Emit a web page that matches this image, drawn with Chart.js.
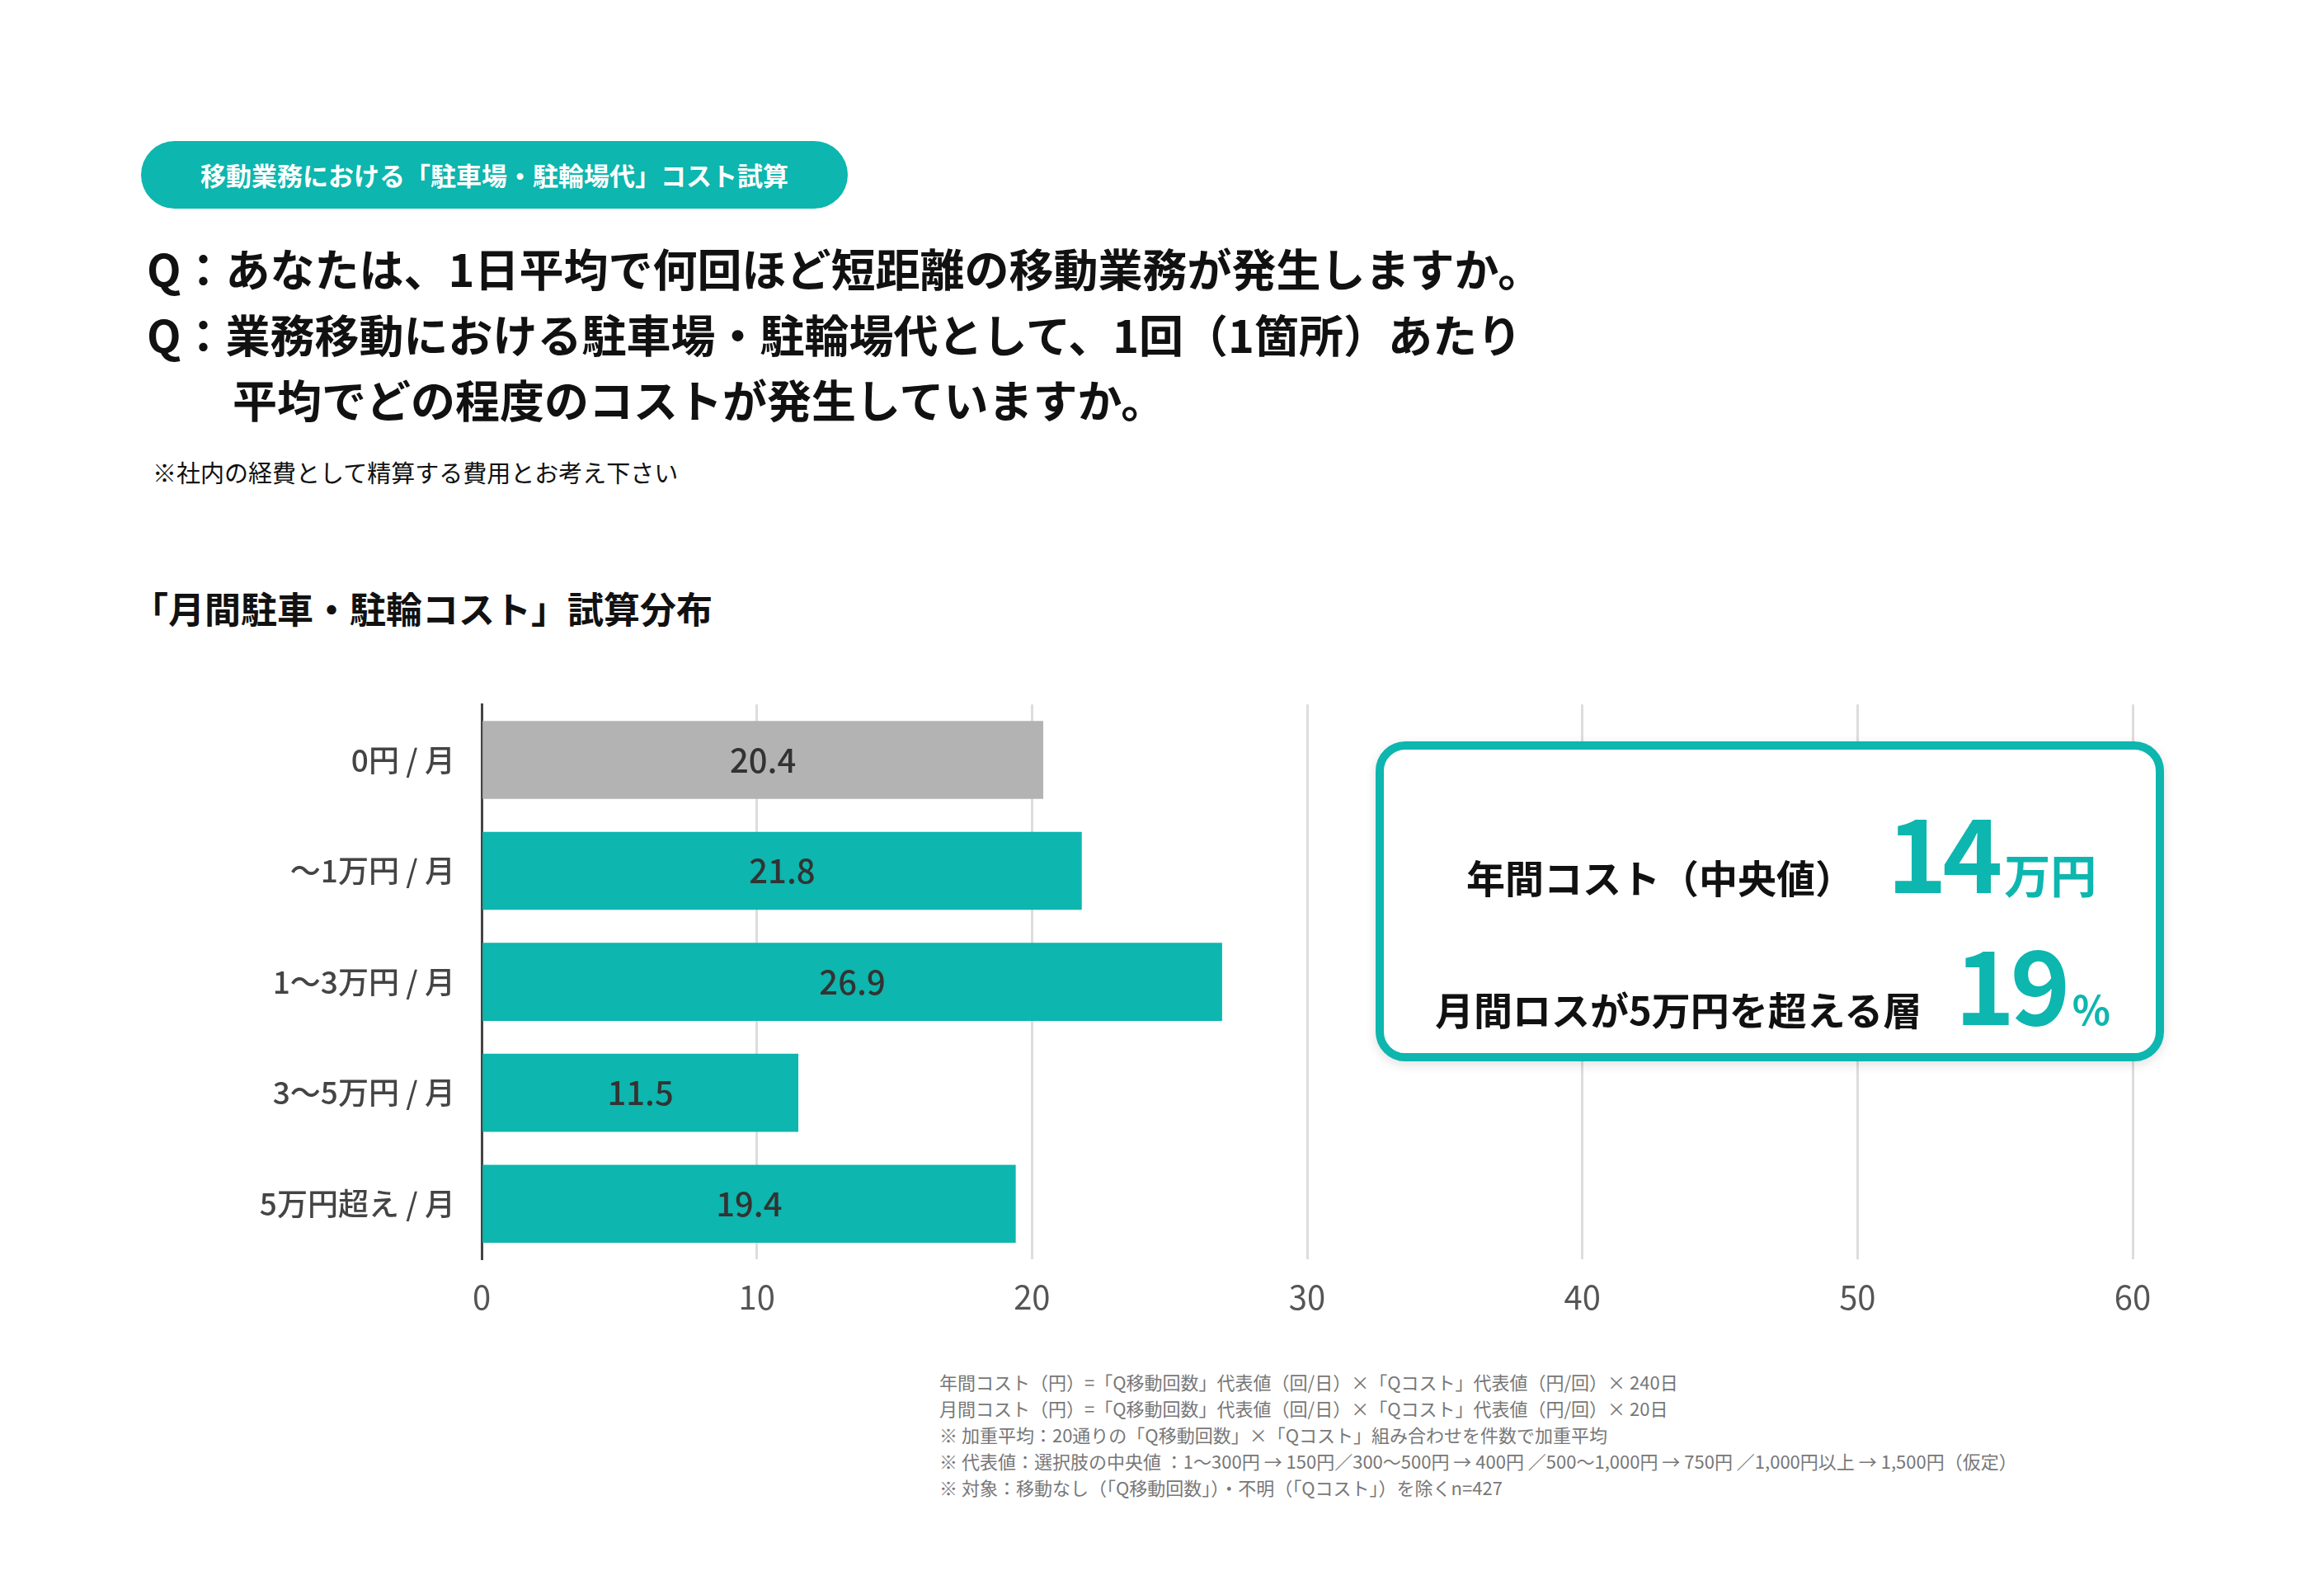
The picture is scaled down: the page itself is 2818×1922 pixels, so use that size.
<!DOCTYPE html>
<html><head><meta charset="utf-8">
<script src="https://cdn.jsdelivr.net/npm/chart.js@4"></script>
<style>
body{margin:0;width:2818px;height:1922px;background:#fff;font-family:"Noto Sans CJK JP","Noto Sans",sans-serif;color:#111;position:relative;overflow:hidden}
.abs{position:absolute;white-space:nowrap}
#badge{left:171px;top:171px;width:857px;height:82px;border-radius:41px;background:#0db6ae;color:#fff;font-size:31px;font-weight:700;line-height:82px;text-align:center}
.q{font-size:54px;font-weight:700;left:178px}
#box{left:1668px;top:899px;width:936px;height:368px;border:10px solid #0db6ae;border-radius:36px;background:#fff;box-shadow:0 4px 14px rgba(0,0,0,.12)}
.row{position:absolute;display:flex;align-items:baseline;font-weight:700}
.lbl{font-size:47px;color:#111}
.big{font-size:124px;color:#0db6ae;letter-spacing:-6px;margin-left:40px;line-height:1}
.unit{font-size:56px;color:#0db6ae;margin-left:8px}
.fn{left:1139px;font-size:22px;color:#777}
</style></head><body>
<div id="badge" class="abs">移動業務における「駐車場・駐輪場代」コスト試算</div>
<div class="abs q" style="top:285px">Q：あなたは、1日平均で何回ほど短距離の移動業務が発生しますか。</div>
<div class="abs q" style="top:365px">Q：業務移動における駐車場・駐輪場代として、1回（1箇所）あたり</div>
<div class="abs q" style="top:444px;left:282px">平均でどの程度のコストが発生していますか。</div>
<div class="abs" style="left:185px;top:551px;font-size:29px">※社内の経費として精算する費用とお考え下さい</div>
<div class="abs" style="left:160px;top:705px;font-size:44px;font-weight:700">「月間駐車・駐輪コスト」試算分布</div>
<canvas id="c" class="abs" style="left:200px;top:800px;width:2440px;height:810px"></canvas>
<div id="box" class="abs">
  <div class="row" style="left:100px;top:58px"><span class="lbl">年間コスト（中央値）</span><span class="big">14</span><span class="unit">万円</span></div>
  <div class="row" style="left:62px;top:218px"><span class="lbl">月間ロスが5万円を超える層</span><span class="big">19</span><span class="unit" style="font-size:48px">%</span></div>
</div>
<div class="abs fn" style="top:1659px">年間コスト（円）=「Q移動回数」代表値（回/日）×「Qコスト」代表値（円/回）× 240日</div>
<div class="abs fn" style="top:1691px">月間コスト（円）=「Q移動回数」代表値（回/日）×「Qコスト」代表値（円/回）× 20日</div>
<div class="abs fn" style="top:1723px">※ 加重平均：20通りの「Q移動回数」×「Qコスト」組み合わせを件数で加重平均</div>
<div class="abs fn" style="top:1755px">※ 代表値：選択肢の中央値 ：1〜300円 → 150円／300〜500円 → 400円 ／500〜1,000円 → 750円 ／1,000円以上 → 1,500円（仮定）</div>
<div class="abs fn" style="top:1787px">※ 対象：移動なし（「Q移動回数」）・不明（「Qコスト」）を除くn=427</div>
<script>
const categories = ['0円 / 月', '〜1万円 / 月', '1〜3万円 / 月', '3〜5万円 / 月', '5万円超え / 月'];
const shares = [20.4, 21.8, 26.9, 11.5, 19.4];
const barColors = ['#b3b3b3', '#0db6ae', '#0db6ae', '#0db6ae', '#0db6ae'];
const xTicks = [0, 10, 20, 30, 40, 50, 60];

const inBarLabels = {
  id: 'inBarLabels',
  afterDatasetsDraw(chart) {
    const ctx = chart.ctx;
    const meta = chart.getDatasetMeta(0);
    ctx.save();
    ctx.font = '500 40px "Noto Sans CJK JP", sans-serif';
    ctx.fillStyle = '#333';
    ctx.textAlign = 'center';
    ctx.textBaseline = 'middle';
    meta.data.forEach((bar, i) => {
      ctx.fillText(shares[i].toFixed(1), (bar.x + bar.base) / 2, bar.y);
    });
    ctx.restore();
  }
};

new Chart(document.getElementById('c'), {
  type: 'bar',
  data: {
    labels: categories,
    datasets: [{ data: shares, backgroundColor: barColors, barThickness: 94 }]
  },
  options: {
    indexAxis: 'y',
    responsive: false,
    devicePixelRatio: 1,
    animation: false,
    layout: { padding: { top: 27, right: 54, left: 0, bottom: 0 } },
    plugins: { legend: { display: false }, tooltip: { enabled: false } },
    scales: {
      x: {
        min: 0, max: 60,
        afterBuildTicks: s => { s.ticks = xTicks.map(v => ({ value: v })); },
        afterFit: s => { s.height = 83; },
        grid: { color: '#ddd', lineWidth: 3, drawTicks: false },
        border: { display: false },
        ticks: { padding: 22, color: '#555', font: { size: 40, family: '"Noto Sans CJK JP"' } }
      },
      y: {
        afterFit: s => { s.width = 384; },
        grid: { display: false, drawTicks: false },
        border: { color: '#444', width: 3 },
        ticks: { padding: 32, color: '#444', font: { size: 37, weight: '500', family: '"Noto Sans CJK JP"' } }
      }
    }
  },
  plugins: [inBarLabels]
});
</script>
</body></html>
